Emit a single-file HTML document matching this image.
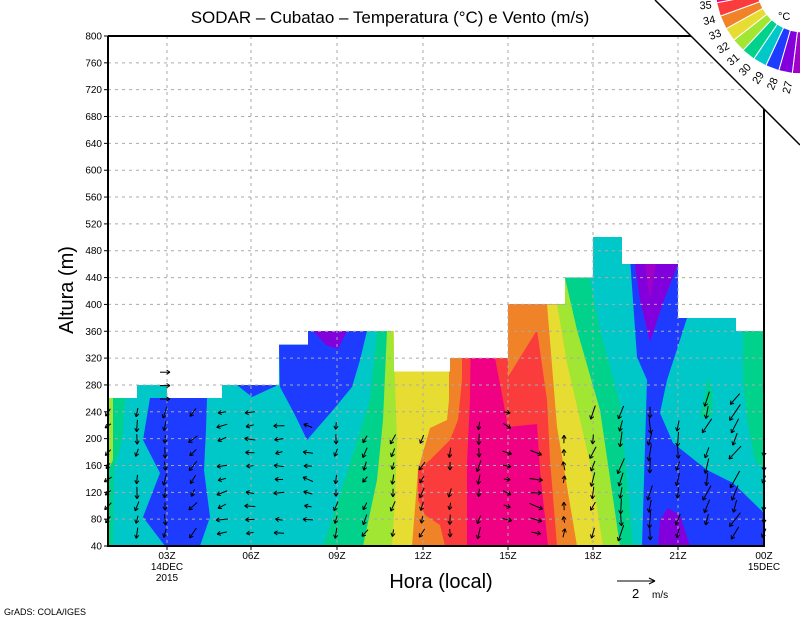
<!DOCTYPE html>
<html><head><meta charset="utf-8"><style>
html,body{margin:0;padding:0;background:#fff}
svg{display:block}
text{font-family:"Liberation Sans",sans-serif}
</style></head><body>
<svg id="s" width="800" height="618" viewBox="0 0 800 618" xmlns="http://www.w3.org/2000/svg">
<defs>
<clipPath id="dc"><path d="M108,546 L108,398 L137,398 L137,385 L167,385 L167,398 L222,398 L222,385 L279,385 L279,344.6 L308,344.6 L308,331 L394,331 L394,371.5 L450,371.5 L450,358 L508,358 L508,304.4 L565,304.4 L565,277.5 L593,277.5 L593,237 L622,237 L622,264 L678,264 L678,318 L736,318 L736,331 L764,331 L764,546 Z"/></clipPath>
</defs>
<g clip-path="url(#dc)">
<rect x="108" y="200" width="656" height="346" fill="#00c8c8"/>
<polygon points="108,398 125,398 122,440 114,470 113,546 108,546" fill="#00d28c"/>
<polygon points="108,398 113,398 113,460 108,470" fill="#a0e632"/>
<polygon points="150,398 207,398 206,430 204,470 210,517 200,546 165,546 143,517 160,473 143,440" fill="#1e3cff"/>
<polygon points="237,385 278,385 252,397" fill="#1e3cff"/>
<polygon points="279,344.6 308,344.6 308,331 367,331 360,360 352,387 333,410 307,440 295,415 280,387" fill="#1e3cff"/>
<polygon points="313,331 347,331 338,349 326,345" fill="#8200dc"/>
<polygon points="378,230 764,230 764,546 323,546 348,470 370,400 377,330" fill="#00d28c"/>
<polygon points="387,230 764,230 764,546 363,546 377,480 383,420 387,330" fill="#a0e632"/>
<polygon points="393,230 764,230 764,546 392,546 395,500 397,440 393,330" fill="#e6dc32"/>
<polygon points="449,230 764,230 764,546 412,546 418,470 430,428 447,420 449,400" fill="#f08228"/>
<polygon points="462,230 764,230 764,546 445,546 440,525 425,515 418,500 418,470 430,460 450,440 458,420 462,380" fill="#fa3c3c"/>
<polygon points="472,230 764,230 764,546 467,546 467,463 470,400" fill="#f00082"/>
<polygon points="495,358 508,358 508,300 764,300 764,546 548,546 540,470 537,424 508,427 503,400" fill="#fa3c3c"/>
<polygon points="508,300 764,300 764,546 557,546 550,460 547,400 537,330 508,377" fill="#f08228"/>
<polygon points="547,230 764,230 764,546 577,546 557,427 547,304" fill="#e6dc32"/>
<polygon points="557,230 764,230 764,546 603,546 590,463 567,363 557,304" fill="#a0e632"/>
<polygon points="565,230 764,230 764,546 620,546 600,410 577,330 565,278" fill="#00d28c"/>
<polygon points="590,230 764,230 764,546 633,546 620,403 600,330 590,278" fill="#00c8c8"/>
<polygon points="628,230 678,230 678,318 687,318 680,340 667,380 660,413 673,443 707,470 733,483 764,513 764,546 642,546 647,380 637,357" fill="#1e3cff"/>
<polygon points="635,264 678,264 664,300 650,342 640,300" fill="#8200dc"/>
<polygon points="645,264 656,264 650,300" fill="#a000c8"/>
<polygon points="658,546 660,520 668,508 680,515 690,546" fill="#8200dc"/>
<polygon points="743,331 764,331 764,470 755,460 747,420 743,380" fill="#00d28c"/>
<polygon points="700,417 705,395 708,377 713,395 712,417" fill="#00d28c"/>
</g>
<g stroke="#aaa" stroke-width="1" stroke-dasharray="3,4" fill="none" id="grid"></g>
<g id="arrows" stroke="#000" stroke-width="1" fill="none"></g>
<g stroke="#000" stroke-width="2" fill="none">
<line x1="108" y1="36" x2="108" y2="547"/>
<line x1="107" y1="546" x2="765" y2="546"/>
<line x1="108" y1="36" x2="691" y2="36"/>
<line x1="764" y1="109" x2="764" y2="546"/>
</g>
<polygon points="656,0 800,0 800,144" fill="#fff"/>
<line x1="655" y1="0" x2="800" y2="145" stroke="#000" stroke-width="1.5"/>
<g id="leg"></g>
<g id="ticks" font-size="10" fill="#000"></g>
<text x="390" y="23" font-size="17" text-anchor="middle">SODAR – Cubatao – Temperatura (°C) e Vento (m/s)</text>
<text transform="translate(73,290) rotate(-90)" font-size="20" text-anchor="middle">Altura (m)</text>
<text x="441" y="588" font-size="20" text-anchor="middle">Hora (local)</text>
<text x="4" y="615" font-size="9">GrADS: COLA/IGES</text>
<g stroke="#000" stroke-width="1.1"><line x1="617" y1="581" x2="655" y2="581"/><line x1="655" y1="581" x2="649" y2="578"/><line x1="655" y1="581" x2="649" y2="584"/></g>
<text x="632" y="598" font-size="13">2</text><text x="652" y="598" font-size="10">m/s</text>
</svg>
<script>
var NS="http://www.w3.org/2000/svg";
function el(p,t,a,tx){var e=document.createElementNS(NS,t);for(var k in a)e.setAttribute(k,a[k]);if(tx!=null)e.textContent=tx;p.appendChild(e);return e;}
var g=document.getElementById('grid'),tk=document.getElementById('ticks');
function Y(h){return 546-(h-40)*510/760;}
for(var h=40;h<=800;h+=40){var y=Y(h);if(h>40&&h<800)el(g,'line',{x1:108,y1:y,x2:764,y2:y});
 el(tk,'text',{x:102,y:y+3.5,'text-anchor':'end'},h);el(tk,'line',{x1:104,y1:y,x2:108,y2:y,stroke:'#000'});}
var xs=[167,251,337,423,508,593,678],lb=['03Z','06Z','09Z','12Z','15Z','18Z','21Z'];
for(var i=0;i<xs.length;i++){el(g,'line',{x1:xs[i],y1:36,x2:xs[i],y2:546});el(tk,'text',{x:xs[i],y:559,'text-anchor':'middle'},lb[i]);el(tk,'line',{x1:xs[i],y1:546,x2:xs[i],y2:550,stroke:'#000'});}
el(tk,'text',{x:167,y:570,'text-anchor':'middle'},'14DEC');el(tk,'text',{x:167,y:581,'text-anchor':'middle'},'2015');
el(tk,'text',{x:764,y:559,'text-anchor':'middle'},'00Z');el(tk,'text',{x:764,y:570,'text-anchor':'middle'},'15DEC');
var xsC=[108,137,165,193,222,250,279,308,336,365,393,422,450,479,507,536,564,593,621,650,678,707,735,764];
var topY=[400,400,360,400,400,410,415,425,425,430,420,430,440,410,400,440,430,410,410,410,415,395,395,440];
var ang=[135,100,95,130,160,180,180,190,100,120,105,115,95,100,20,10,270,110,100,95,100,110,120,100];
var len=[8,10,10,10,10,9,9,9,9,9,9,9,9,10,8,12,8,12,14,14,12,14,16,8];
var A=document.getElementById('arrows');
for(var c=0;c<xsC.length;c++){var x=xsC[c];
 for(var k=0;k<14;k++){var y=533-13.4*k;if(y<topY[c])break;
  if(((k*5+c*3)%7)==0&&c!=2)continue;
  var a=(ang[c]+((k*37+c*13)%30-15))*Math.PI/180,L=len[c]*(0.8+((k*7+c*3)%5)/10);
  if(c==2&&y<400){a=(y<370?80:0)*Math.PI/180;L=10;}
  var x0=x-Math.cos(a)*L/2,y0=y-Math.sin(a)*L/2,x1=x+Math.cos(a)*L/2,y1=y+Math.sin(a)*L/2;
  el(A,'line',{x1:x0,y1:y0,x2:x1,y2:y1});
  for(var s=-1;s<=1;s+=2){var b=a+Math.PI+s*0.55;el(A,'line',{x1:x1,y1:y1,x2:x1+Math.cos(b)*4,y2:y1+Math.sin(b)*4});}
 }}
var Lg=document.getElementById('leg');var cx=803,cy=-14,r1=46,r2=88;
var cols=['#a000c8','#8200dc','#1e3cff','#00c8c8','#00d28c','#a0e632','#e6dc32','#f08228','#fa3c3c','#f00082'];
for(var i=0;i<10;i++){var t0=(88+i*9)*Math.PI/180,t1=(88+(i+1)*9)*Math.PI/180;
 var p=[[cx+r2*Math.cos(t0),cy+r2*Math.sin(t0)],[cx+r2*Math.cos(t1),cy+r2*Math.sin(t1)],[cx+r1*Math.cos(t1),cy+r1*Math.sin(t1)],[cx+r1*Math.cos(t0),cy+r1*Math.sin(t0)]];
 el(Lg,'polygon',{points:p.map(function(q){return q.join(',')}).join(' '),fill:cols[i],stroke:'#fff','stroke-width':1});
 if(i<9){var ad=88+(i+1)*9,t=ad*Math.PI/180,lx=cx+(r2+11)*Math.cos(t),ly=cy+(r2+11)*Math.sin(t)+4;
  el(Lg,'text',{x:lx,y:ly,'font-size':11,'text-anchor':'middle',transform:'rotate('+(ad-172)+' '+lx+' '+ly+')'},27+i);}}
el(Lg,'text',{x:778,y:20,'font-size':11},'°C');
</script>
</body></html>
